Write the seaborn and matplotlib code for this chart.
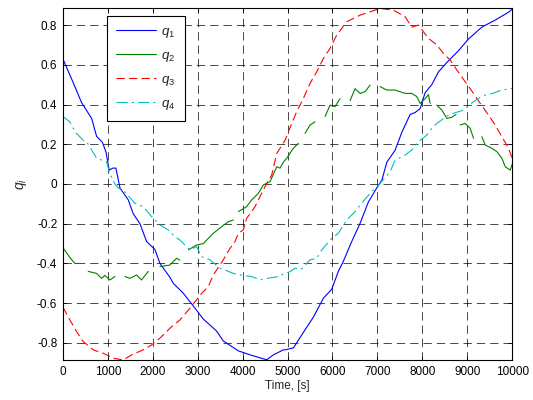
import numpy as np
import pandas as pd
import matplotlib
matplotlib.use("Agg")
import matplotlib.pyplot as plt
import seaborn as sns
from matplotlib.lines import Line2D

# time axis [s] and quaternion components
t1 = [0, 230, 415, 640, 750, 880, 960, 1030, 1110, 1180,
      1270, 1455, 1566, 1715, 1864, 2050, 2160, 2383, 2457, 2680,
      2940, 3125, 3420, 3570, 3905, 4165, 4537, 4685, 4907, 4944,
      5130, 5315, 5575, 5797, 5983, 6130, 6240, 6427, 6610, 6800,
      6985, 7100, 7210, 7394, 7543, 7728, 7840, 7951, 8062, 8210,
      8360, 8580, 8800, 9028, 9325, 9621, 9918, 10000]
q1 = [0.63, 0.51, 0.41, 0.33, 0.24, 0.21, 0.16, 0.07, 0.08, 0.08,
      -0.02, -0.08, -0.15, -0.20, -0.29, -0.33, -0.40, -0.47, -0.50, -0.55,
      -0.625, -0.68, -0.74, -0.79, -0.84, -0.86, -0.885, -0.86, -0.835, -0.835,
      -0.825, -0.76, -0.67, -0.575, -0.53, -0.44, -0.39, -0.29, -0.20, -0.09,
      -0.02, 0.02, 0.11, 0.17, 0.26, 0.35, 0.36, 0.38, 0.46, 0.50,
      0.565, 0.62, 0.67, 0.73, 0.79, 0.825, 0.865, 0.88]

# q2 has dropouts (nan)
t2 = [0, 155, 267, 378, 470,
      564, 750, 862, 935, 1047, 1158, 1250,
      1380, 1492, 1640, 1750, 1900, 2030,
      2160, 2380, 2494, 2532, 2600, 2700,
      2790, 2977, 3125, 3347, 3534, 3682, 3793, 3850,
      3905, 4090, 4202, 4350, 4461, 4610, 4759, 4833, 4907, 4982, 5130, 5241, 5320,
      5390, 5501, 5612, 5720,
      5835, 5946, 6058, 6169, 6280,
      6392, 6503, 6615, 6726, 6837, 6950,
      7060, 7210, 7394, 7617, 7765, 7877, 7951, 8062, 8136, 8174, 8250,
      8322, 8434, 8545, 8657, 8750, 8800,
      8842, 8953, 9065, 9139, 9230,
      9325, 9399, 9548, 9659, 9770, 9844, 9955, 10000]
q2 = [-0.32, -0.37, -0.40, -0.40, np.nan,
      -0.44, -0.45, -0.475, -0.46, -0.483, -0.466, np.nan,
      -0.466, -0.475, -0.458, -0.483, -0.44, np.nan,
      -0.416, -0.408, -0.382, -0.374, -0.383, np.nan,
      -0.332, -0.307, -0.30, -0.248, -0.215, -0.19, -0.181, np.nan,
      -0.139, -0.114, -0.08, -0.047, -0.005, 0.012, 0.087, 0.08, 0.11, 0.13, 0.18, 0.205, np.nan,
      0.255, 0.297, 0.313, np.nan,
      0.34, 0.397, 0.39, 0.43, np.nan,
      0.42, 0.48, 0.456, 0.465, 0.498, np.nan,
      0.49, 0.473, 0.473, 0.456, 0.456, 0.44, 0.406, 0.43, 0.45, 0.406, np.nan,
      0.397, 0.372, 0.33, 0.336, 0.35, np.nan,
      0.297, 0.305, 0.28, 0.23, np.nan,
      0.238, 0.196, 0.18, 0.163, 0.13, 0.087, 0.07, 0.10]

t3 = [0, 155, 304, 452, 675, 898, 1120, 1343, 1530, 1788,
      1975, 2160, 2383, 2606, 2828, 3089, 3236, 3347, 3570, 3719,
      3830, 3905, 4016, 4090, 4276, 4350, 4461, 4537, 4647, 4759,
      4944, 5093, 5204, 5353, 5501, 5650, 5798, 5946, 6095, 6318,
      6615, 6837, 7060, 7356, 7617, 7765, 7914, 8025, 8136, 8322,
      8470, 8619, 8768, 8953, 9139, 9287, 9473, 9621, 9770, 9918,
      10000]
q3 = [-0.62, -0.684, -0.743, -0.793, -0.835, -0.852, -0.877, -0.886, -0.86, -0.835,
      -0.81, -0.776, -0.726, -0.684, -0.625, -0.55, -0.517, -0.458, -0.382, -0.324,
      -0.29, -0.248, -0.231, -0.173, -0.114, -0.08, -0.03, 0.003, 0.045, 0.154,
      0.22, 0.305, 0.364, 0.431, 0.507, 0.565, 0.632, 0.683, 0.75, 0.817,
      0.85, 0.867, 0.884, 0.875, 0.842, 0.79, 0.80, 0.766, 0.733, 0.70,
      0.657, 0.624, 0.574, 0.515, 0.456, 0.406, 0.347, 0.297, 0.238, 0.18,
      0.13]

t4 = [0, 155, 267, 452, 527, 750, 972, 1047, 1158, 1232,
      1380, 1603, 1788, 1975, 2160, 2345, 2494, 2606, 2828, 2977,
      3089, 3274, 3497, 3608, 3793, 3942, 4202, 4388, 4537, 4796,
      4850, 5056, 5167, 5300, 5501, 5650, 5761, 5983, 6130, 6318,
      6503, 6615, 6837, 7060, 7283, 7394, 7617, 7765, 7914, 8099,
      8210, 8322, 8580, 8693, 8916, 9139, 9250, 9399, 9550, 9770,
      10000]
q4 = [0.34, 0.313, 0.263, 0.221, 0.213, 0.13, 0.112, 0.05, 0.0, -0.02,
      -0.04, -0.097, -0.114, -0.164, -0.206, -0.231, -0.265, -0.282, -0.332, -0.315,
      -0.366, -0.382, -0.424, -0.433, -0.45, -0.458, -0.466, -0.483, -0.475, -0.466,
      -0.458, -0.441, -0.424, -0.43, -0.382, -0.374, -0.332, -0.273, -0.248, -0.181,
      -0.139, -0.106, -0.047, 0.003, 0.062, 0.121, 0.146, 0.171, 0.213, 0.246,
      0.28, 0.305, 0.347, 0.356, 0.372, 0.414, 0.431, 0.448, 0.455, 0.473,
      0.481]

series_labels = [r"$\mathit{q_1}$", r"$\mathit{q_2}$", r"$\mathit{q_3}$", r"$\mathit{q_4}$"]
x_ticks = [0, 1000, 2000, 3000, 4000, 5000, 6000, 7000, 8000, 9000, 10000]
y_ticks = [-0.8, -0.6, -0.4, -0.2, 0, 0.2, 0.4, 0.6, 0.8]
y_tick_labels = ["-0.8", "-0.6", "-0.4", "-0.2", "0", "0.2", "0.4", "0.6", "0.8"]

sns.set_style("ticks")
plt.rcParams["font.family"] = ["Liberation Sans", "DejaVu Sans"]
plt.rcParams["mathtext.fontset"] = "custom"
plt.rcParams["mathtext.it"] = "Liberation Sans:italic"
plt.rcParams["mathtext.rm"] = "Liberation Sans"
plt.rcParams["axes.unicode_minus"] = False
plt.rcParams["lines.scale_dashes"] = False

colors = ["#0000ff", "#008000", "#ff0000", "#00bfbf"]
styles = ["-", "-", (0, (6, 3)), (0, (8, 3, 1.5, 3))]
lw = 0.8

fig, ax = plt.subplots(figsize=(5.33, 4.0), dpi=100)
fig.subplots_adjust(left=0.118, right=0.961, bottom=0.1, top=0.98)

sns.lineplot(x=t1, y=q1, ax=ax, color=colors[0], lw=lw, sort=False, estimator=None)

# split q2 into its continuous pieces so the gaps stay visible
df2 = pd.DataFrame({"t": t2, "q": q2})
df2["seg"] = df2["q"].isna().cumsum()
df2 = df2.dropna()
sns.lineplot(data=df2, x="t", y="q", units="seg", estimator=None, sort=False,
             ax=ax, color=colors[1], lw=lw, legend=False)

sns.lineplot(x=t3, y=q3, ax=ax, color=colors[2], lw=lw, linestyle=styles[2],
             sort=False, estimator=None)
sns.lineplot(x=t4, y=q4, ax=ax, color=colors[3], lw=lw, linestyle=styles[3],
             sort=False, estimator=None)

ax.set_xlim(0, 10000)
ax.set_ylim(-0.886, 0.886)
ax.set_xticks(x_ticks)
ax.set_xticklabels([str(v) for v in x_ticks])
ax.set_yticks(y_ticks)
ax.set_yticklabels(y_tick_labels)
ax.tick_params(direction="in", length=3, width=0.6, top=True, right=True,
               labelsize=8.5, colors="k", pad=4)
for s in ax.spines.values():
    s.set_visible(True)
    s.set_linewidth(0.8)
    s.set_color("k")

ax.grid(True, color="k", lw=0.5, linestyle=(0, (6, 3.6)))

ax.set_xlabel("Time, [s]", fontsize=8.5, labelpad=2)
ax.set_ylabel(r"$\mathit{q_i}$", fontsize=10, labelpad=6)

handles = [Line2D([], [], color=c, lw=lw, linestyle=st) for c, st in zip(colors, styles)]
leg = ax.legend(handles, series_labels, loc="upper left", bbox_to_anchor=(0.098, 0.977),
                borderaxespad=0, fontsize=9.5, handlelength=3.0, handletextpad=0.4,
                labelspacing=0.75, borderpad=0.7, fancybox=False, framealpha=1,
                edgecolor="k")
leg.get_frame().set_linewidth(0.8)

plt.savefig("out.png", dpi=100)
plt.close()
